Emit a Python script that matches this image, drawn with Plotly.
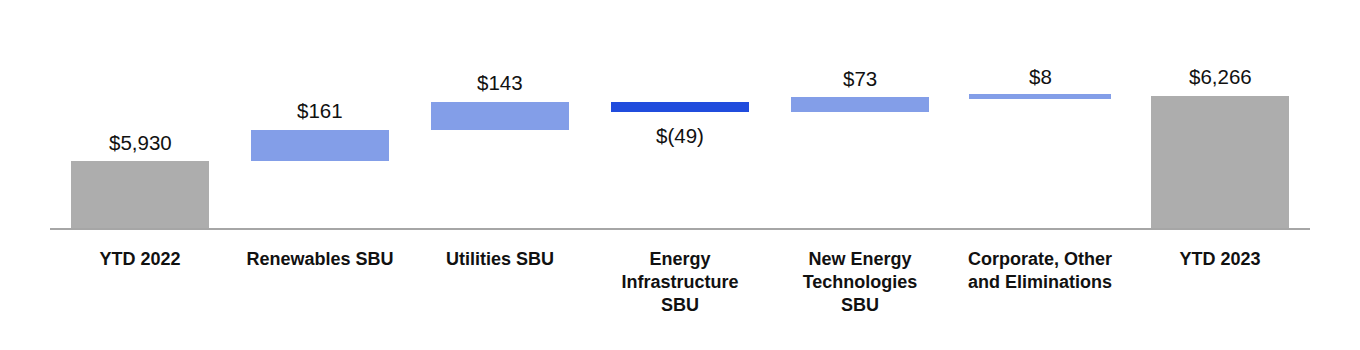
import plotly.graph_objects as go

# Adjusted EBITDA bridge, YTD 2022 to YTD 2023 ($ millions)
categories = [
    "YTD 2022",
    "Renewables SBU",
    "Utilities SBU",
    "Energy<br>Infrastructure<br>SBU",
    "New Energy<br>Technologies<br>SBU",
    "Corporate, Other<br>and Eliminations",
    "YTD 2023",
]
start_total = 5930
changes = [161, 143, -49, 73, 8]
end_total = 6266
value_labels = ["$5,930", "$161", "$143", "$(49)", "$73", "$8", "$6,266"]

GRAY = "#ADADAD"
LIGHT_BLUE = "#839EE8"
DARK_BLUE = "#204CDD"
Y_MIN = 5589.4

# Bar bottoms and heights for the bridge
bases, heights, colors = [], [], []
bases.append(Y_MIN)
heights.append(start_total - Y_MIN)
colors.append(GRAY)
running = start_total
for d in changes:
    if d >= 0:
        bases.append(running)
        heights.append(d)
        colors.append(LIGHT_BLUE)
    else:
        bases.append(running + d)
        heights.append(-d)
        colors.append(DARK_BLUE)
    running += d
bases.append(Y_MIN)
heights.append(end_total - Y_MIN)
colors.append(GRAY)

# very thin steps get an outline of the same colour so they stay visible
line_widths = [4 if h < 20 else 0 for h in heights]

x_pos = list(range(len(categories)))

fig = go.Figure()
fig.add_trace(go.Bar(
    x=x_pos,
    y=heights,
    base=bases,
    width=0.77,
    marker=dict(color=colors, line=dict(color=colors, width=line_widths)),
    hoverinfo="skip",
))

# value labels: above rising/total bars, below falling bars
all_deltas = [start_total] + changes + [end_total]
for i, (b, h, d, txt) in enumerate(zip(bases, heights, all_deltas, value_labels)):
    if d >= 0:
        y, shift = b + h, 19
    else:
        y, shift = b, -24
    fig.add_annotation(
        x=x_pos[i], y=y, text=txt, showarrow=False,
        yanchor="middle", yshift=shift,
        font=dict(family="Liberation Sans", size=20.5, color="#111111"),
    )

fig.update_layout(
    width=1360, height=350,
    margin=dict(l=50, r=50, t=20, b=122),
    paper_bgcolor="white", plot_bgcolor="white",
    showlegend=False,
    bargap=0,
)
fig.update_xaxes(
    range=[-0.5, 6.5],
    tickmode="array", tickvals=x_pos, ticktext=categories,
    tickfont=dict(family="Liberation Sans", size=18, color="#111111", weight="bold"),
    showline=True, linecolor="#A6A6A6", linewidth=2,
    showgrid=False, zeroline=False, ticks="",
    ticklabelstandoff=13,
)
fig.update_yaxes(
    range=[Y_MIN, 6653], visible=False, showgrid=False, zeroline=False,
)

fig.write_html("out.html")
